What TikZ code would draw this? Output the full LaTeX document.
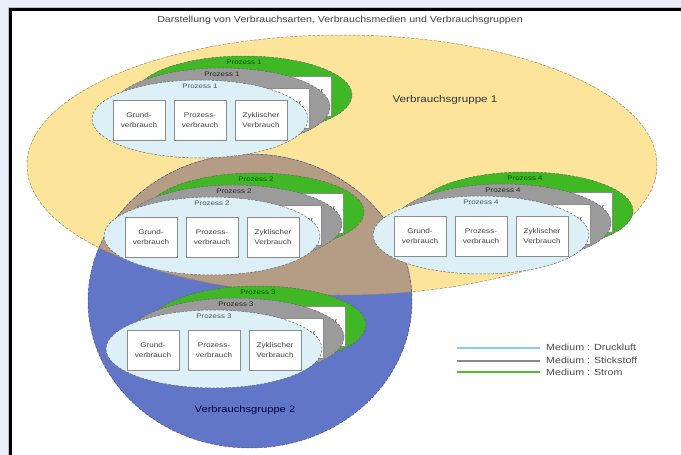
\documentclass[tikz,border=0pt]{standalone}
\usepackage{fontspec}
\setmainfont{Liberation Sans}[FakeStretch=1.2]
\usetikzlibrary{shapes.geometric}
\definecolor{bgc}{HTML}{E9EEF8}
\definecolor{yel}{HTML}{FCE59B}
\definecolor{blu}{HTML}{6276C8}
\definecolor{brn}{HTML}{B59C85}
\definecolor{grn}{HTML}{40B825}
\definecolor{gry}{HTML}{9B9B9B}
\definecolor{lbl}{HTML}{DDF0F8}
\definecolor{legblue}{HTML}{86CFE8}
\definecolor{leggray}{HTML}{8A8A8A}
\definecolor{leggreen}{HTML}{55BC32}
\tikzset{
  layer/.style={ellipse, draw=black!60, dash pattern=on 2.5pt off 1.5pt, line width=0.5pt,
    minimum width=216pt, minimum height=78pt, inner sep=0pt},
  pbox/.style={draw=black!45, fill=white, line width=0.6pt, minimum width=52pt, minimum height=40pt,
    inner sep=0pt, align=center, font=\fontsize{6.8}{10}\selectfont, text=black!75},
  plabel/.style={font=\fontsize{6.6}{7}\selectfont, inner sep=0pt},
  bigtext/.style={inner sep=0pt},
  legtext/.style={font=\fontsize{8.9}{9}\selectfont, inner sep=0pt, anchor=west, text=black!70},
  legline/.style={line width=1.2pt},
}
% one medium layer: ellipse, label and three boxes
\newcommand\mylayer[6]{%
  \node[layer, fill=#5] (#1e) at (#2,#3) {};
  \node[plabel, text=#6] (#1l) at (#2,#3-33) {Prozess #4};
  \node[pbox] (#1a) at (#2-61,#3+1) {Grund-\\verbrauch};
  \node[pbox] (#1b) at (#2,#3+1) {Prozess-\\verbrauch};
  \node[pbox] (#1c) at (#2+61,#3+1) {Zyklischer\\Verbrauch};
}
\newcommand\mygroup[4]{%
  \mylayer{#1g}{#2+44}{#3-24}{#4}{grn}{green!35!black}
  \mylayer{#1s}{#2+22}{#3-12}{#4}{gry}{black!85}
  \mylayer{#1d}{#2}{#3}{#4}{lbl}{cyan!30!black}
}
\begin{document}
\begin{tikzpicture}[x=1pt,y=-1pt]
\useasboundingbox (0,0) rectangle (681,455);
\fill[bgc] (0,0) rectangle (681,455);
\fill[white] (10,9.5) rectangle (681,455);
\draw[black!25, line width=1pt] (8.3,455) -- (8.3,7.6) -- (681,7.6);
\draw[black, line width=2.5pt] (10.3,455) -- (10.3,9.6) -- (681,9.6);

\node[font=\fontsize{8.85}{9}\selectfont, text=black!75, inner sep=0pt] (title) at (340,20)
  {Darstellung von Verbrauchsarten, Verbrauchsmedien und Verbrauchsgruppen};

% consumption groups
\fill[yel] (342,165) ellipse [x radius=315pt, y radius=130pt];
\fill[blu] (250,301) ellipse [x radius=162pt, y radius=147pt];
\begin{scope}
  \clip (342,165) ellipse [x radius=315pt, y radius=130pt];
  \fill[brn] (250,301) ellipse [x radius=162pt, y radius=147pt];
\end{scope}
\draw[brown!60!black!70, line width=0.5pt, dash pattern=on 3pt off 1.5pt] (342,165) ellipse [x radius=315pt, y radius=130pt];
\draw[blue!30!black!70, line width=0.5pt, dash pattern=on 3pt off 1.5pt] (250,301) ellipse [x radius=162pt, y radius=147pt];

\node[bigtext, font=\fontsize{9.7}{10}\selectfont, text=black!80] (vg1) at (445,100) {Verbrauchsgruppe 1};
\node[bigtext, font=\fontsize{9.3}{10}\selectfont, text=blue!25!black] (vg2) at (245,410) {Verbrauchsgruppe 2};

% process groups
\mygroup{pa}{200}{119}{1}
\mygroup{pb}{212}{236}{2}
\mygroup{pd}{481}{235}{4}
\mygroup{pc}{214}{349}{3}

% legend
\coordinate (l1a) at (457,348); \coordinate (l1b) at (540,348);
\coordinate (l2a) at (457,361); \coordinate (l2b) at (540,361);
\coordinate (l3a) at (457,372); \coordinate (l3b) at (540,372);
\draw[legline, legblue] (l1a) -- (l1b);
\draw[legline, leggray] (l2a) -- (l2b);
\draw[legline, leggreen] (l3a) -- (l3b);
\node[legtext] (t1) at (546,347.5) {Medium : Druckluft};
\node[legtext] (t2) at (546,360) {Medium : Stickstoff};
\node[legtext] (t3) at (546,372) {Medium : Strom};
\end{tikzpicture}
\end{document}
